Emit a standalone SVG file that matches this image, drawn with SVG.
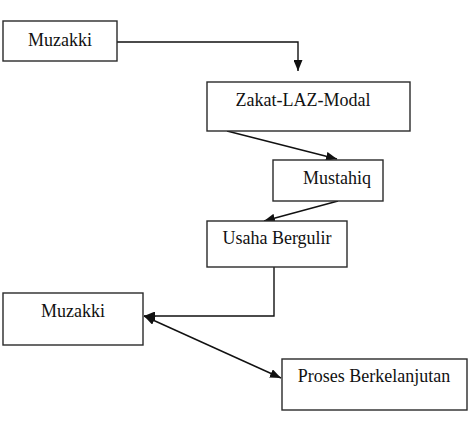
<svg xmlns="http://www.w3.org/2000/svg" width="468" height="426" viewBox="0 0 468 426">
<style>
.box{fill:#fff;stroke:#2a2a2a;stroke-width:1.4}
.lbl{font-family:'Liberation Serif','Times New Roman',Times,serif;font-size:18px;fill:#111;text-anchor:middle}
.con{fill:none;stroke:#111;stroke-width:1.4}
</style>
<defs>
<marker id="ah" viewBox="0 0 11 9" refX="11" refY="4.5" markerWidth="11" markerHeight="9" markerUnits="userSpaceOnUse" orient="auto-start-reverse">
<path d="M0,0 L11,4.5 L0,9 Z" fill="#111"/>
</marker>
</defs>
<rect width="468" height="426" fill="#fff"/>
<g id="connectors">
<path class="con" d="M117,42 H298 V71" marker-end="url(#ah)"/>
<path class="con" d="M227,131 L337,159" marker-end="url(#ah)"/>
<path class="con" d="M338,201 L264,221" marker-end="url(#ah)"/>
<path class="con" d="M274,267 V316 H144" marker-end="url(#ah)"/>
<path class="con" d="M144,316 L281,378" marker-start="url(#ah)" marker-end="url(#ah)"/>
</g>
<g id="muzakki1"><rect class="box" x="3" y="21" width="114" height="40"/><text class="lbl" x="60" y="46">Muzakki</text></g>
<g id="zakat"><rect class="box" x="207" y="82" width="203" height="49"/><text class="lbl" x="303" y="106">Zakat-LAZ-Modal</text></g>
<g id="mustahiq"><rect class="box" x="273" y="160" width="110" height="41"/><text class="lbl" x="337" y="184">Mustahiq</text></g>
<g id="usaha"><rect class="box" x="207" y="221" width="140" height="46"/><text class="lbl" x="277" y="244">Usaha Bergulir</text></g>
<g id="muzakki2"><rect class="box" x="3" y="293" width="140" height="52"/><text class="lbl" x="73" y="317">Muzakki</text></g>
<g id="proses"><rect class="box" x="282" y="359" width="185" height="51"/><text class="lbl" x="374" y="382">Proses Berkelanjutan</text></g>
</svg>
